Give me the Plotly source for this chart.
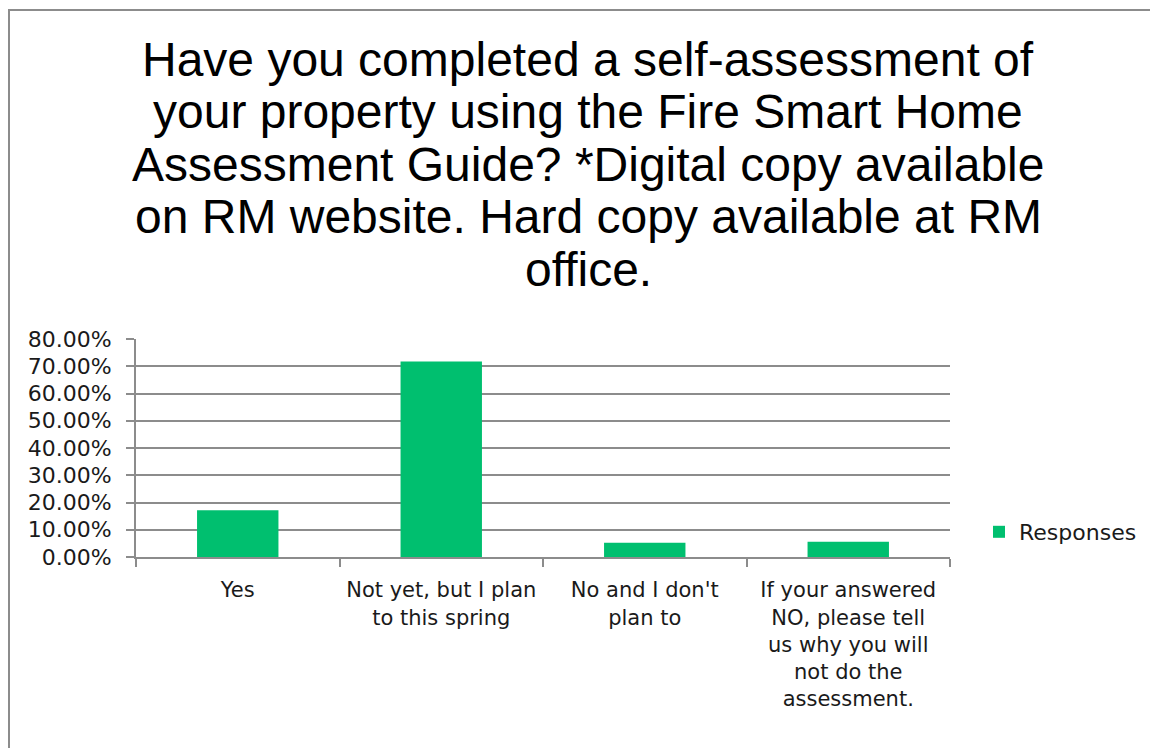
import plotly.graph_objects as go

# data
categories = ["Yes", "Not yet, but I plan to this spring", "No and I don't plan to",
              "If your answered NO, please tell us why you will not do the assessment."]
cat_labels = ["Yes", "Not yet, but I plan<br>to this spring", "No and I don't<br>plan to",
              "If your answered<br>NO, please tell<br>us why you will<br>not do the<br>assessment."]
responses = [0.172, 0.717, 0.052, 0.056]
series_name = "Responses"
title_lines = ["Have you completed a self-assessment of",
               "your property using the Fire Smart Home",
               "Assessment Guide? *Digital copy available",
               "on RM website. Hard copy available at RM",
               "office."]

W, H = 1158, 748
OFF = 8                            # page body margin
L, R, T, B = 136, 950, 339, 557    # plot area, in picture pixels
pw, ph = R - L, B - T

def px(x):
    return (x - L) / pw

def py(y):
    return (B - y) / ph

GRID = "#8c8c8c"
GREEN = "#00BF6F"
TXT = "#1a1a1a"

fig = go.Figure()
fig.add_trace(go.Bar(x=categories, y=responses, name=series_name,
                     marker=dict(color=GREEN, line=dict(width=0)),
                     showlegend=True))

fig.update_layout(
    width=W, height=H,
    margin=dict(l=L - OFF, r=W - (R - OFF), t=T - OFF, b=H - (B - OFF), pad=0),
    paper_bgcolor="white", plot_bgcolor="white",
    bargap=0.6,
    font=dict(family="Liberation Sans, Arial", color=TXT),
    showlegend=True,
    legend=dict(x=px(979), y=py(532), xanchor="left", yanchor="middle",
                font=dict(family="DejaVu Sans", size=22, color=TXT),
                itemwidth=30, bgcolor="rgba(0,0,0,0)"),
)

fig.update_xaxes(tickmode="array", tickvals=categories, ticktext=cat_labels,
                 tickson="boundaries", ticks="outside", ticklen=8, tickwidth=2,
                 tickcolor=GRID, showline=True, linecolor=GRID, linewidth=2,
                 showgrid=False, tickfont=dict(family="DejaVu Sans", size=21, color=TXT),
                 tickangle=0, ticklabelstandoff=13)
fig.update_yaxes(range=[0, 0.8], dtick=0.1, tickformat=".2%",
                 ticks="outside", ticklen=8, tickwidth=2, tickcolor=GRID,
                 showline=True, linecolor=GRID, linewidth=2,
                 showgrid=True, gridcolor=GRID, gridwidth=2, zeroline=False,
                 tickfont=dict(family="DejaVu Sans", size=22, color=TXT),
                 ticklabelstandoff=10)

# title, one annotation per line so the line spacing matches
for i, line in enumerate(title_lines):
    fig.add_annotation(text=line, xref="paper", yref="paper",
                       x=px(588), y=py(59 + i * 52.5), xanchor="center", yanchor="middle",
                       showarrow=False, font=dict(size=48, color="black",
                                                  family="Liberation Sans, Arial"))

# chart border (left edge kept just inside the svg)
fig.add_shape(type="rect", xref="paper", yref="paper",
              x0=px(9), x1=px(1185), y0=py(775), y1=py(10),
              line=dict(color=GRID, width=2), fillcolor="rgba(0,0,0,0)", layer="below")

fig.write_html("out.html")
